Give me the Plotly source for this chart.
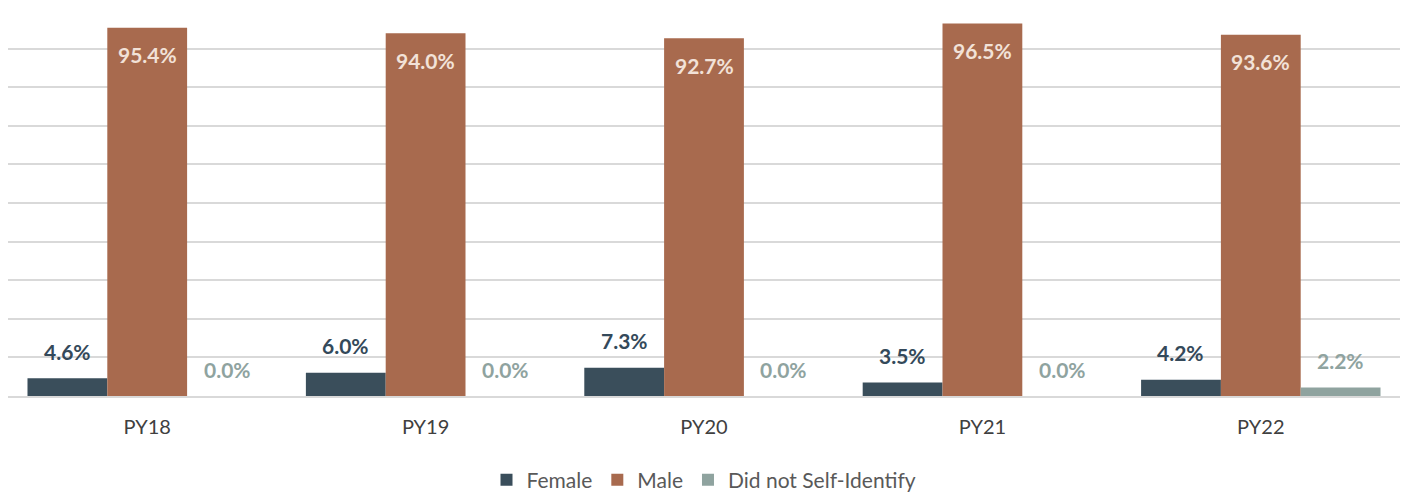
import plotly.graph_objects as go

years = ["PY18", "PY19", "PY20", "PY21", "PY22"]
female = [4.6, 6.0, 7.3, 3.5, 4.2]
male = [95.4, 94.0, 92.7, 96.5, 93.6]
not_identified = [0.0, 0.0, 0.0, 0.0, 2.2]

font_family = "Lato, Open Sans, sans-serif"

# the page body adds an 8px offset, so the figure is a bit smaller
W, H = 1403, 485
ML, MR, MT, MB = 0, 11, 2, 97
BARGAP = 0.14
bar_px = (W - ML - MR) / len(years) * (1 - BARGAP) / 3


def pct(v):
    return "<b>%.1f%%</b>" % v


fig = go.Figure()

fig.add_trace(go.Bar(x=years, y=female, name="Female",
                     marker=dict(color="#3a4e5b", line=dict(width=0))))
fig.add_trace(go.Bar(x=years, y=male, name="Male",
                     marker=dict(color="#a86a4e", line=dict(width=0))))
fig.add_trace(go.Bar(x=years, y=not_identified, name="Did not Self-Identify",
                     marker=dict(color="#8fa39f", line=dict(width=0))))

# data labels, anchored to each bar's value on the axes
for yr, f, m, d in zip(years, female, male, not_identified):
    fig.add_annotation(x=yr, y=f, xref="x", yref="y", text=pct(f),
                       showarrow=False, xshift=-bar_px, yshift=27,
                       yanchor="middle",
                       font=dict(size=21, color="#34495a", family=font_family))
    fig.add_annotation(x=yr, y=m, xref="x", yref="y", text=pct(m),
                       showarrow=False, xshift=0, yshift=-27,
                       yanchor="middle",
                       font=dict(size=21, color="#f2e2d8", family=font_family))
    fig.add_annotation(x=yr, y=d, xref="x", yref="y", text=pct(d),
                       showarrow=False, xshift=bar_px, yshift=27,
                       yanchor="middle",
                       font=dict(size=21, color="#8fa39f", family=font_family))

fig.update_layout(
    width=W,
    height=H,
    barmode="group",
    bargap=BARGAP,
    bargroupgap=0,
    plot_bgcolor="white",
    paper_bgcolor="white",
    margin=dict(l=ML, r=MR, t=MT, b=MB, autoexpand=False),
    font=dict(family=font_family, color="#404040"),
    showlegend=True,
    legend=dict(
        orientation="h",
        x=0.5,
        xanchor="center",
        y=-0.218,
        yanchor="middle",
        font=dict(size=21, color="#595959"),
        traceorder="normal",
    ),
)

fig.update_xaxes(
    showgrid=False,
    showline=True,
    linecolor="#d9d9d9",
    linewidth=2,
    ticks="",
    ticklabelstandoff=12,
    tickfont=dict(size=20, color="#404040"),
    automargin=False,
)

fig.update_yaxes(
    range=[0, 100],
    dtick=10,
    showticklabels=False,
    showgrid=True,
    gridcolor="#d9d9d9",
    gridwidth=2,
    zeroline=False,
    automargin=False,
)

fig.write_html("out.html")
